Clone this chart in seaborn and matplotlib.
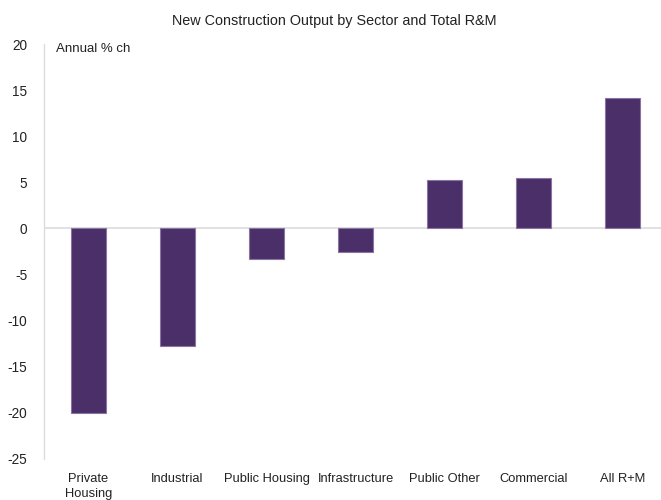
import matplotlib
matplotlib.use("Agg")
import matplotlib.pyplot as plt
import seaborn as sns
import pandas as pd

sectors = ["Private\nHousing", "Industrial", "Public Housing", "Infrastructure",
           "Public Other", "Commercial", "All R+M"]
annual_change = [-20.0, -12.8, -3.3, -2.6, 5.2, 5.5, 14.1]
y_ticks = [-25, -20, -15, -10, -5, 0, 5, 10, 15, 20]

df = pd.DataFrame({"sector": sectors, "change": annual_change})

sns.set_theme(style="white")
plt.rcParams["font.family"] = ["Liberation Sans", "DejaVu Sans"]

fig = plt.figure(figsize=(6.61, 5.0), dpi=100)
ax = fig.add_axes([44 / 661, 41 / 500, 623 / 661, 415 / 500])

sns.barplot(data=df, x="sector", y="change", color="#4b2f68", saturation=1,
            width=0.40, edgecolor="#8a74a3", linewidth=0.8, ax=ax)

ax.set_xlim(-0.5, len(sectors) - 0.5)
ax.set_ylim(-25, 20)
ax.set_yticks(y_ticks)
ax.set_yticklabels([str(t) for t in y_ticks])
ax.axhline(0, color="#dcdcdc", linewidth=1.2, zorder=0)

for side in ["top", "right", "bottom"]:
    ax.spines[side].set_visible(False)
ax.spines["left"].set_color("#dcdcdc")
ax.spines["left"].set_linewidth(1.0)

ax.tick_params(axis="both", length=0, labelsize=9.3, colors="#222222")
ax.tick_params(axis="y", pad=12, labelsize=9.8)
ax.tick_params(axis="x", pad=10)
for lbl in ax.get_xticklabels():
    lbl.set_linespacing(1.3)
ax.set_xlabel("")
ax.set_ylabel("")

ax.text(0.02, 1.003, "Annual % ch", transform=ax.transAxes, fontsize=9.5,
        color="#222222", va="top", ha="left")
fig.suptitle("New Construction Output by Sector and Total R&M", x=0.505, y=0.972,
             fontsize=10.4, color="#222222")

fig.savefig("out.png", dpi=100)
